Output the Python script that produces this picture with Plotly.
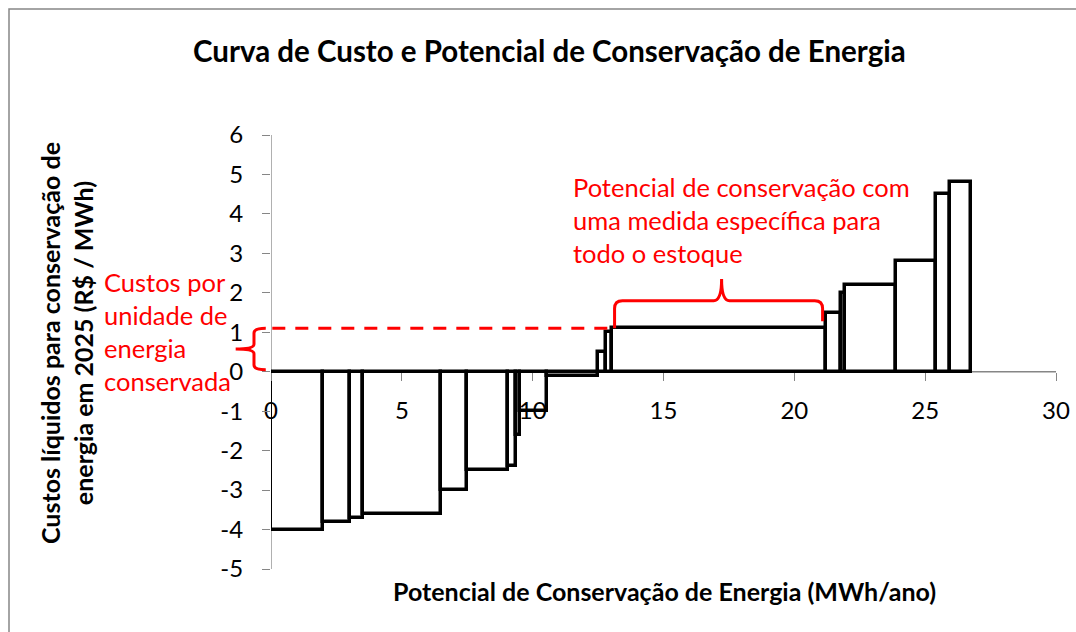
import numpy as np
import plotly.graph_objects as go

# ---- data ----
potencial_mwh = [2.0, 1.0, 0.5, 3.0, 1.0, 1.55, 0.3, 0.15, 1.05, 1.95,
                 0.3, 0.25, 8.15, 0.6, 0.15, 1.95, 1.5, 0.55, 0.8]
custo_rs_mwh = [-4.0, -3.8, -3.7, -3.6, -3.0, -2.5, -2.4, -1.6, -1.0, -0.1,
                0.5, 1.0, 1.1, 1.5, 2.0, 2.2, 2.8, 4.5, 4.8]
x_ticks = [0, 5, 10, 15, 20, 25, 30]
y_ticks = [-5, -4, -3, -2, -1, 0, 1, 2, 3, 4, 5, 6]

title = "Curva de Custo e Potencial de Conservação de Energia"
x_title = "Potencial de Conservação de Energia (MWh/ano)"
y_title = "Custos líquidos para conservação de<br>energia em 2025 (R$ / MWh)"
note_left = "Custos por<br>unidade de<br>energia<br>conservada"
note_top = "Potencial de conservação com<br>uma medida específica para<br>todo o estoque"

# ---- geometry ----
W, H = 1076, 632
ML, MR, MT, MB = 271, 20, 135, 63
XR = (0, 30)
YR = (-5, 6)
FONT = "Lato"
RED = "#FF0000"
GRAY = "#868686"


def px_x(X):
    return (X - ML) / (W - ML - MR)


def px_y(Y):
    return (H - MB - Y) / (H - MT - MB)


def dx(x):
    return (x - XR[0]) / (XR[1] - XR[0])


def dy(y):
    return (y - YR[0]) / (YR[1] - YR[0])


w = np.array(potencial_mwh)
starts = np.concatenate([[0.0], np.cumsum(w)[:-1]])
centers = starts + w / 2

fig = go.Figure()
fig.add_trace(go.Bar(
    x=centers, y=custo_rs_mwh, width=w,
    marker=dict(color="white", line=dict(color="black", width=3.5)),
    hoverinfo="skip", showlegend=False,
))

shapes = []
# axis lines (below bars)
shapes.append(dict(type="line", xref="x", yref="y", x0=XR[0], x1=XR[1], y0=0, y1=0,
                   line=dict(color=GRAY, width=1.3), layer="below"))
shapes.append(dict(type="line", xref="x", yref="y", x0=0, x1=0, y0=YR[0], y1=YR[1],
                   line=dict(color=GRAY, width=1.3), layer="below"))
# chart border
shapes.append(dict(type="rect", xref="paper", yref="paper",
                   x0=px_x(9), x1=px_x(W + 20), y0=px_y(H + 20), y1=px_y(9),
                   line=dict(color=GRAY, width=1.5), fillcolor="rgba(0,0,0,0)", layer="below"))

# red dashed line at specific cost
lvl = 1.1
x_leg_l = 13.13
shapes.append(dict(type="line", xref="x", yref="y", x0=0.05, x1=x_leg_l, y0=lvl, y1=lvl,
                   line=dict(color=RED, width=3, dash="13px,10px"), layer="above"))

# left brace (paper coords)
tip, spine, point = -0.2, -0.65, -1.35
top, bot = 1.1, 0.05
mid = (top + bot) / 2
ry = 0.12
p = (f"M {dx(tip)},{dy(top)} Q {dx(spine)},{dy(top)} {dx(spine)},{dy(top - ry)} "
     f"L {dx(spine)},{dy(mid + ry)} Q {dx(spine)},{dy(mid)} {dx(point)},{dy(mid)} "
     f"Q {dx(spine)},{dy(mid)} {dx(spine)},{dy(mid - ry)} "
     f"L {dx(spine)},{dy(bot + ry)} Q {dx(spine)},{dy(bot)} {dx(tip)},{dy(bot)}")
shapes.append(dict(type="path", xref="paper", yref="paper", path=p,
                   line=dict(color=RED, width=3), layer="above"))

# top brace
xl, xr_, xm = x_leg_l, 21.08, 17.22
yl, yr2, ys, yp = 1.1, 1.28, 1.8, 2.35
rx, ryy = 0.3, 0.2
p2 = (f"M {dx(xl)},{dy(yl)} L {dx(xl)},{dy(ys - ryy)} Q {dx(xl)},{dy(ys)} {dx(xl + rx)},{dy(ys)} "
      f"L {dx(xm - rx)},{dy(ys)} Q {dx(xm)},{dy(ys)} {dx(xm)},{dy(yp)} "
      f"Q {dx(xm)},{dy(ys)} {dx(xm + rx)},{dy(ys)} "
      f"L {dx(xr_ - rx)},{dy(ys)} Q {dx(xr_)},{dy(ys)} {dx(xr_)},{dy(ys - ryy)} L {dx(xr_)},{dy(yr2)}")
shapes.append(dict(type="path", xref="paper", yref="paper", path=p2,
                   line=dict(color=RED, width=3), layer="above"))

annotations = [
    dict(text=f"<b>{title}</b>", xref="paper", yref="paper", x=px_x(549), y=px_y(50),
         xanchor="center", yanchor="middle", showarrow=False,
         font=dict(family=FONT, size=29.5, color="black")),
    dict(text=f"<b>{x_title}</b>", xref="paper", yref="paper", x=px_x(664), y=px_y(591),
         xanchor="center", yanchor="middle", showarrow=False,
         font=dict(family=FONT, size=25, color="black")),
    dict(text=f"<b>{y_title}</b>", xref="paper", yref="paper", x=px_x(66), y=px_y(343),
         xanchor="center", yanchor="middle", showarrow=False, textangle=-90,
         font=dict(family=FONT, size=25, color="black")),
    dict(text=note_left, xref="paper", yref="paper", x=px_x(102), y=px_y(331),
         xanchor="left", yanchor="middle", align="left", showarrow=False,
         font=dict(family=FONT, size=25.5, color=RED)),
    dict(text=note_top, xref="paper", yref="paper", x=px_x(571), y=px_y(220),
         xanchor="left", yanchor="middle", align="left", showarrow=False,
         font=dict(family=FONT, size=25.5, color=RED)),
]

fig.update_layout(
    width=W, height=H,
    margin=dict(l=ML, r=MR, t=MT, b=MB, pad=0),
    paper_bgcolor="white", plot_bgcolor="white",
    font=dict(family=FONT, size=24, color="black"),
    shapes=shapes, annotations=annotations,
    bargap=0,
    xaxis=dict(range=list(XR), tickvals=x_ticks, ticktext=[str(v) for v in x_ticks],
               anchor="free", position=dy(0), showgrid=False, zeroline=False,
               showline=False, ticks="outside", ticklen=8, tickcolor=GRAY, tickwidth=1,
               ticklabelstandoff=9, automargin=False,
               tickfont=dict(family=FONT, size=24, color="black")),
    yaxis=dict(range=list(YR), tickvals=y_ticks, ticktext=[str(v) for v in y_ticks],
               showgrid=False, zeroline=False, showline=False, ticks="outside",
               ticklen=8, tickcolor=GRAY, tickwidth=1, ticklabelstandoff=14,
               automargin=False,
               tickfont=dict(family=FONT, size=24, color="black")),
)

fig.write_html("out.html", config={"displayModeBar": False},
               post_script="document.body.style.margin='0';document.body.style.padding='0';")
